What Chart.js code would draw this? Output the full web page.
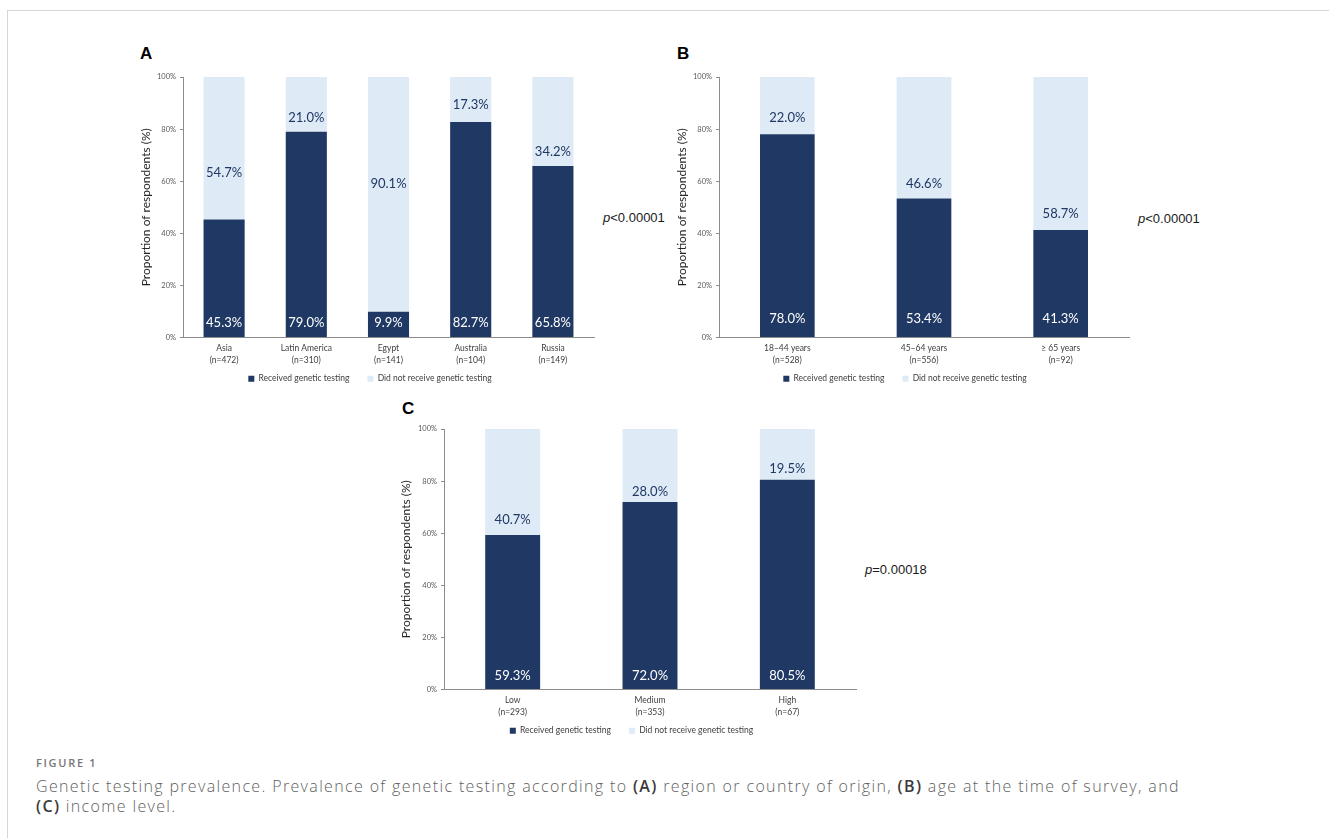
<!DOCTYPE html>
<html>
<head>
<meta charset="utf-8">
<script src="https://cdn.jsdelivr.net/npm/chart.js@4"></script>
<style>
  body { margin: 0; background: #fff; width: 1329px; height: 838px; overflow: hidden; position: relative; font-family: "Liberation Sans", Arial, sans-serif; }
  .frame { position: absolute; left: 7px; top: 10px; width: 1400px; height: 900px; border-top: 1px solid #d6d6d6; border-left: 1px solid #d6d6d6; }
  canvas { position: absolute; }
  .letter { position: absolute; font: bold 17px "Liberation Sans", Arial, sans-serif; color: #000; line-height: 17px; }
  .pval { position: absolute; font: 13px "Liberation Sans", Arial, sans-serif; color: #1a1a1a; line-height: 16px; }
  .cap-h { position: absolute; left: 36px; top: 756px; font: 600 11px/14px "Open Sans", sans-serif; color: #777; letter-spacing: 1.7px; }
  .cap { position: absolute; left: 36px; top: 776px; width: 1280px; font: 300 16px/20px "Open Sans", sans-serif; color: #5f5f5f; letter-spacing: 1.35px; }
  .cap b { color: #3a3a3a; font-weight: 600; }
</style>
</head>
<body>
<div class="frame"></div>

<div class="letter" style="left:140px; top:45px;">A</div>
<div class="letter" style="left:677px; top:45px;">B</div>
<div class="letter" style="left:402px; top:400px;">C</div>

<div class="pval" style="left:603px; top:210px;"><i>p</i>&lt;0.00001</div>
<div class="pval" style="left:1138px; top:211px;"><i>p</i>&lt;0.00001</div>
<div class="pval" style="left:865px; top:562px;"><i>p</i>=0.00018</div>

<canvas id="chartA" width="474" height="366" style="left:130px; top:40px;"></canvas>
<canvas id="chartB" width="476" height="366" style="left:665px; top:40px;"></canvas>
<canvas id="chartC" width="474" height="366" style="left:391px; top:392px;"></canvas>

<div class="cap-h">FIGURE 1</div>
<div class="cap">Genetic testing prevalence. Prevalence of genetic testing according to <b>(A)</b> region or country of origin, <b>(B)</b> age at the time of survey, and<br><b>(C)</b> income level.</div>

<script>
// panel A - region or country of origin
var regionNames = ['Asia', 'Latin America', 'Egypt', 'Australia', 'Russia'];
var regionN = [472, 310, 141, 104, 149];
var regionReceived = [45.3, 79.0, 9.9, 82.7, 65.8];
var regionNotReceived = [54.7, 21.0, 90.1, 17.3, 34.2];

// panel B - age at time of survey
var ageNames = ['18\u201344 years', '45\u201364 years', '\u2265 65 years'];
var ageN = [528, 556, 92];
var ageReceived = [78.0, 53.4, 41.3];
var ageNotReceived = [22.0, 46.6, 58.7];

// panel C - income level
var incomeNames = ['Low', 'Medium', 'High'];
var incomeN = [293, 353, 67];
var incomeReceived = [59.3, 72.0, 80.5];
var incomeNotReceived = [40.7, 28.0, 19.5];

var seriesNames = ['Received genetic testing', 'Did not receive genetic testing'];
var yTickStep = 20;

// where the "did not receive" labels sit (in % on the y axis), as placed in the figure
var lightLabelA = [63.2, 84.4, 59.0, 89.2, 71.4];
var lightLabelB = [84.4, 58.9, 47.6];
var lightLabelC = [65.2, 76.0, 84.8];

var NAVY = '#1f3864';
var LIGHT = '#deeaf6';
var AXIS = '#8c8c8c';
var FONT = 'Lato';

function fmt(v) { return v.toFixed(1) + '%'; }

var valueLabels = {
    id: 'valueLabels',
    afterDatasetsDraw: function(chart, args, opts) {
        var ctx = chart.ctx;
        var y = chart.scales.y;
        var dark = chart.getDatasetMeta(0).data;
        var light = chart.getDatasetMeta(1).data;
        ctx.save();
        ctx.font = '13px ' + FONT;
        ctx.textAlign = 'center';
        ctx.textBaseline = 'middle';
        dark.forEach(function(bar, i) {
            ctx.fillStyle = '#ffffff';
            ctx.fillText(fmt(chart.data.datasets[0].data[i]), bar.x, y.getPixelForValue(opts.darkAt));
            ctx.fillStyle = NAVY;
            ctx.fillText(fmt(chart.data.datasets[1].data[i]), light[i].x, y.getPixelForValue(opts.lightAt[i]));
        });
        ctx.restore();
    }
};

// pull the legend up under the two-line category labels
var legendShift = {
    id: 'legendShift',
    afterLayout: function(chart, args, opts) {
        var lg = chart.legend;
        lg.top -= opts.dy; lg.bottom -= opts.dy;
        lg.left += opts.dx; lg.right += opts.dx;
    }
};

function makeChart(id, names, ns, received, notReceived, cfg) {
    var labels = names.map(function(n, i) { return [n, '(n=' + ns[i] + ')']; });
    return new Chart(document.getElementById(id), {
        type: 'bar',
        data: {
            labels: labels,
            datasets: [{
                label: seriesNames[0],
                data: received,
                backgroundColor: NAVY,
                barPercentage: cfg.barPct,
                categoryPercentage: 1
            }, {
                label: seriesNames[1],
                data: notReceived,
                backgroundColor: LIGHT,
                barPercentage: cfg.barPct,
                categoryPercentage: 1
            }]
        },
        options: {
            responsive: false,
            animation: false,
            layout: { padding: { top: 37, right: cfg.padRight, left: 0, bottom: 0 } },
            scales: {
                x: {
                    stacked: true,
                    grid: { display: false, drawTicks: false },
                    border: { display: true, color: AXIS, width: 1 },
                    ticks: { color: '#404040', padding: 5, font: { family: FONT, size: 8.5, lineHeight: 1.4 } },
                    afterFit: function(s) { s.height = 32; }
                },
                y: {
                    stacked: true,
                    min: 0,
                    max: 100,
                    ticks: {
                        stepSize: yTickStep,
                        color: '#595959',
                        padding: 4,
                        font: { family: FONT, size: 7.5 },
                        callback: function(v) { return v + '%'; }
                    },
                    grid: { drawOnChartArea: false, tickLength: 3, color: AXIS },
                    border: { color: AXIS, width: 1 },
                    title: {
                        display: true,
                        text: 'Proportion of respondents (%)',
                        color: '#262626',
                        font: { family: FONT, size: 12 },
                        padding: { top: cfg.titlePad, bottom: 0 }
                    },
                    afterFit: function(s) { s.width = cfg.axisWidth; }
                }
            },
            plugins: {
                legend: {
                    position: 'bottom',
                    labels: {
                        boxWidth: 6,
                        boxHeight: 6,
                        padding: 18,
                        color: '#404040',
                        font: { family: FONT, size: 8.5 }
                    }
                },
                tooltip: { enabled: false },
                valueLabels: { darkAt: cfg.darkAt, lightAt: cfg.lightAt },
                legendShift: { dx: 8, dy: 13 }
            }
        },
        plugins: [valueLabels, legendShift]
    });
}

makeChart('chartA', regionNames, regionN, regionReceived, regionNotReceived,
    { barPct: 0.5, padRight: 10, axisWidth: 53, titlePad: 9, darkAt: 5.5, lightAt: lightLabelA });
makeChart('chartB', ageNames, ageN, ageReceived, ageNotReceived,
    { barPct: 0.4, padRight: 12, axisWidth: 54, titlePad: 10, darkAt: 7.1, lightAt: lightLabelB });
makeChart('chartC', incomeNames, incomeN, incomeReceived, incomeNotReceived,
    { barPct: 0.4, padRight: 9, axisWidth: 53, titlePad: 8, darkAt: 5.1, lightAt: lightLabelC });
</script>
</body>
</html>
